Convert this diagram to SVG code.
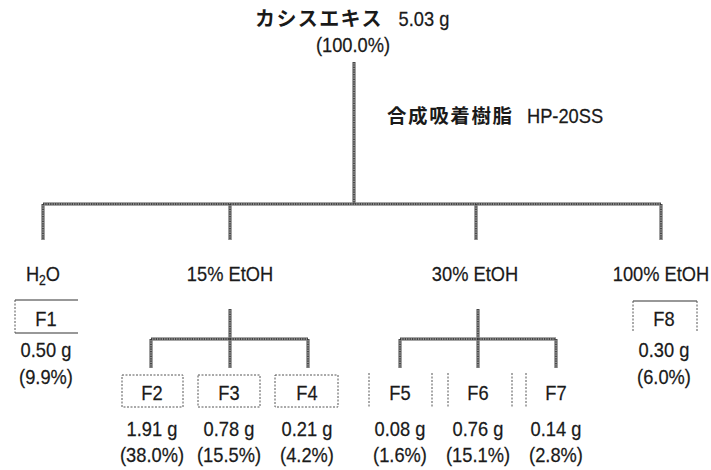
<svg xmlns="http://www.w3.org/2000/svg" width="711" height="470" viewBox="0 0 711 470">
<style>
  .t { font-family: "Liberation Sans", "Noto Sans CJK JP", sans-serif; fill: #1a1a1a; stroke: #1a1a1a; stroke-width: 0.25; font-size: 21px; text-anchor: middle; }
  .jp { font-family: "Noto Sans CJK JP", sans-serif; font-weight: bold; fill: #1a1a1a; }
  .c1 { stroke: #8a8a8a; stroke-width: 3.6; fill: none; }
  .c2 { stroke: #2e2e2e; stroke-width: 1.4; fill: none; stroke-dasharray: 1.2 1.2; }
  .dash { stroke: #555; stroke-width: 1; fill: none; stroke-dasharray: 2 1.5; }
  .solid { stroke: #333; stroke-width: 1.2; fill: none; }
</style>
<defs>
  <path id="tree" d="M354,62 V204 M43,204 H661 M43,204 V240 M230,204 V240 M476,204 V240 M661,204 V240 M230,309 V339 M151,339 H308 M151,339 V368 M230,339 V368 M308,339 V368 M478,309 V339 M400,339 H556 M400,339 V368 M478,339 V368 M556,339 V368"/>
</defs>
<g id="connectors">
  <use href="#tree" class="c1"/>
  <use href="#tree" class="c2"/>
</g>
<g id="root">
  <text x="255" y="26" class="jp" font-size="20" letter-spacing="1.4">カシスエキス</text>
  <text transform="translate(424,26) scale(0.87,1)" class="t" font-size="23">5.03 g</text>
  <text transform="translate(353,52) scale(0.87,1)" class="t" font-size="22">(100.0%)</text>
</g>
<g id="resin">
  <text x="387" y="123" class="jp" font-size="19.5" letter-spacing="1.6">合成吸着樹脂</text>
  <text transform="translate(565,123) scale(0.87,1)" class="t" font-size="23">HP-20SS</text>
</g>
<g id="h2o">
  <text transform="translate(43,281) scale(0.87,1)" class="t">H<tspan font-size="14" dy="4">2</tspan><tspan dy="-4">O</tspan></text>
</g>
<g id="etoh15"><text transform="translate(230,281) scale(0.87,1)" class="t">15% EtOH</text></g>
<g id="etoh30"><text transform="translate(475,281) scale(0.87,1)" class="t">30% EtOH</text></g>
<g id="etoh100"><text transform="translate(661,281) scale(0.87,1)" class="t">100% EtOH</text></g>
<g id="F1">
  <path class="solid" d="M15,300 H78 M15,333 H78"/>
  <path class="dash" d="M15,300 V333"/>
  <text transform="translate(46,326) scale(0.87,1)" class="t">F1</text>
  <text transform="translate(46,357) scale(0.87,1)" class="t">0.50 g</text>
  <text transform="translate(46,384) scale(0.87,1)" class="t">(9.9%)</text>
</g>
<g id="F2">
  <rect x="122" y="375" width="61" height="32" class="dash"/>
  <text transform="translate(152,400) scale(0.87,1)" class="t">F2</text>
  <text transform="translate(152,436) scale(0.87,1)" class="t">1.91 g</text>
  <text transform="translate(152,462) scale(0.87,1)" class="t">(38.0%)</text>
</g>
<g id="F3">
  <rect x="198" y="375" width="62" height="32" class="dash"/>
  <text transform="translate(229,400) scale(0.87,1)" class="t">F3</text>
  <text transform="translate(229,436) scale(0.87,1)" class="t">0.78 g</text>
  <text transform="translate(229,462) scale(0.87,1)" class="t">(15.5%)</text>
</g>
<g id="F4">
  <rect x="275" y="375" width="63" height="32" class="dash"/>
  <text transform="translate(307,400) scale(0.87,1)" class="t">F4</text>
  <text transform="translate(307,436) scale(0.87,1)" class="t">0.21 g</text>
  <text transform="translate(307,462) scale(0.87,1)" class="t">(4.2%)</text>
</g>
<g id="F5">
  <path class="dash" d="M369,373 V407 M432,373 V407"/>
  <text transform="translate(400,400) scale(0.87,1)" class="t">F5</text>
  <text transform="translate(400,436) scale(0.87,1)" class="t">0.08 g</text>
  <text transform="translate(400,462) scale(0.87,1)" class="t">(1.6%)</text>
</g>
<g id="F6">
  <path class="dash" d="M448,373 V407 M512,373 V407"/>
  <text transform="translate(478,400) scale(0.87,1)" class="t">F6</text>
  <text transform="translate(478,436) scale(0.87,1)" class="t">0.76 g</text>
  <text transform="translate(478,462) scale(0.87,1)" class="t">(15.1%)</text>
</g>
<g id="F7">
  <path class="dash" d="M526,373 V407"/>
  <text transform="translate(556,400) scale(0.87,1)" class="t">F7</text>
  <text transform="translate(556,436) scale(0.87,1)" class="t">0.14 g</text>
  <text transform="translate(556,462) scale(0.87,1)" class="t">(2.8%)</text>
</g>
<g id="F8">
  <path class="solid" d="M633,301 H697" stroke-width="1"/>
  <path class="dash" d="M633,301 V332 M697,301 V332"/>
  <text transform="translate(664,326) scale(0.87,1)" class="t">F8</text>
  <text transform="translate(664,357) scale(0.87,1)" class="t">0.30 g</text>
  <text transform="translate(664,384) scale(0.87,1)" class="t">(6.0%)</text>
</g>
</svg>
